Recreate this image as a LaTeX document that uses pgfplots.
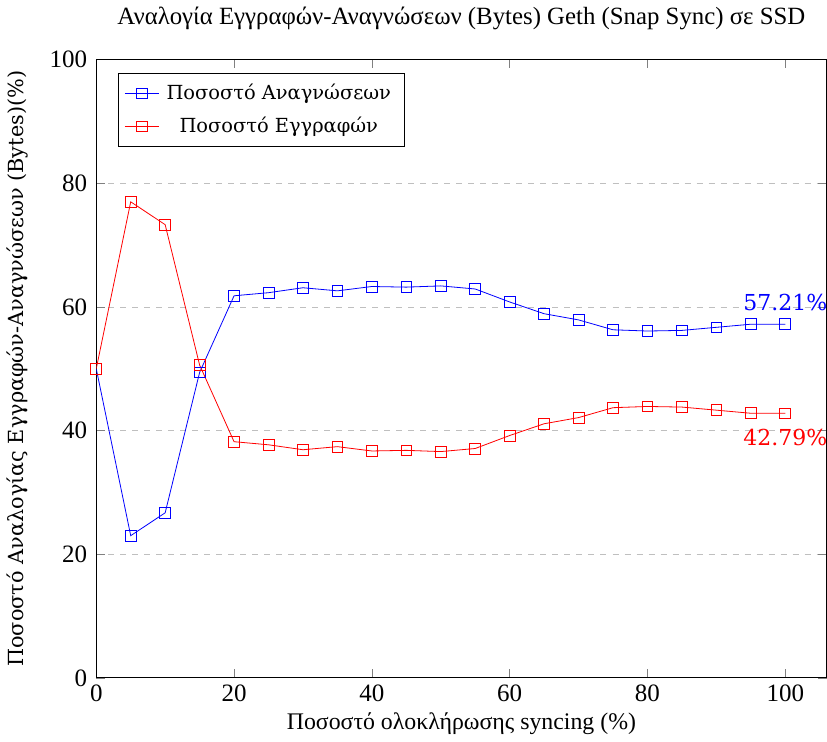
\documentclass[border=0pt]{standalone}
\usepackage{pgfplots}
\pgfplotsset{compat=1.18}
\usepackage{fontspec}
\setmainfont{DejaVu Serif}
\newfontfamily\narrowfont{Liberation Serif}

\begin{document}
\begin{tikzpicture}
\begin{axis}[
    width=365pt, height=309pt,
    scale only axis,
    xmin=0, xmax=106,
    ymin=0, ymax=100,
    xtick={0,20,40,60,80,100},
    ytick={0,20,40,60,80,100},
    ymajorgrids=true,
    grid style={dashed, gray!50},
    tick align=inside,
    /pgf/number format/assume math mode=true,
    tick label style={font=\narrowfont\fontsize{12.5}{14}\selectfont},
    yticklabel style={xshift=-1pt},
    title={Αναλογία Εγγραφών-Αναγνώσεων (Bytes) Geth (Snap Sync) σε SSD},
    title style={font=\narrowfont\fontsize{12.4}{14}\selectfont, yshift=5.5pt},
    xlabel={Ποσοστό ολοκλήρωσης syncing (\%)},
    xlabel style={font=\narrowfont\fontsize{11.9}{13}\selectfont, yshift=1.5pt},
    ylabel={Ποσοστό Αναλογίας Εγγραφών-Αναγνώσεων (Bytes)(\%)},
    ylabel style={font=\fontsize{10.4}{12}\selectfont, yshift=4pt},
    legend style={at={(0.03,0.979)}, anchor=north west,
        font=\fontsize{9.7}{12}\selectfont,
        nodes={inner ysep=3.6pt, inner xsep=3.5pt}},
    legend cell align=center,
]
\addplot[blue, mark=square, mark size=2.7pt] coordinates {
    (0,50) (5,23.0) (10,26.7) (15,49.4) (20,61.8) (25,62.3) (30,63.1)
    (35,62.6) (40,63.3) (45,63.2) (50,63.4) (55,62.9) (60,60.8) (65,58.9)
    (70,57.9) (75,56.3) (80,56.1) (85,56.2) (90,56.7) (95,57.2) (100,57.21)
};
\addlegendentry{Ποσοστό Αναγνώσεων}
\addplot[red, mark=square, mark size=2.7pt] coordinates {
    (0,50) (5,77.0) (10,73.3) (15,50.6) (20,38.2) (25,37.7) (30,36.9)
    (35,37.4) (40,36.7) (45,36.8) (50,36.6) (55,37.1) (60,39.2) (65,41.1)
    (70,42.1) (75,43.7) (80,43.9) (85,43.8) (90,43.3) (95,42.8) (100,42.79)
};
\addlegendentry{Ποσοστό Εγγραφών}
\node[blue, anchor=base, inner sep=0pt, font=\fontsize{11}{13}\selectfont]
    at (axis cs:100,57.21) [yshift=7pt] {57.21\%};
\node[red, anchor=base, inner sep=0pt, font=\fontsize{11}{13}\selectfont]
    at (axis cs:100,42.79) [yshift=-16pt] {42.79\%};
\end{axis}
\end{tikzpicture}
\end{document}
